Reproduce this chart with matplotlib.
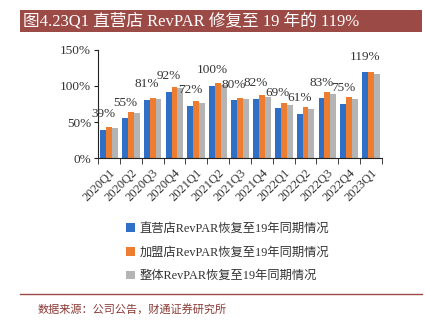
import matplotlib
matplotlib.use("Agg")
import matplotlib.pyplot as plt
from matplotlib.patches import Rectangle
from matplotlib.lines import Line2D
import numpy as np

plt.rcParams['font.family'] = ['Liberation Serif', 'Noto Sans CJK SC']

categories = ["2020Q1", "2020Q2", "2020Q3", "2020Q4", "2021Q1", "2021Q2", "2021Q3",
              "2021Q4", "2022Q1", "2022Q2", "2022Q3", "2022Q4", "2023Q1"]
direct = [39, 55, 81, 92, 72, 100, 80, 82, 69, 61, 83, 75, 119]
franchise = [43, 64, 83, 98, 79, 104, 84, 87, 76, 71, 92, 85, 119]
overall = [42, 62, 82, 97, 77, 102, 82, 85, 74, 68, 89, 82, 117]
series_names = ["直营店RevPAR恢复至19年同期情况",
                "加盟店RevPAR恢复至19年同期情况",
                "整体RevPAR恢复至19年同期情况"]
yticks = [0, 50, 100, 150]
title = "图4.23Q1 直营店 RevPAR 修复至 19 年的 119%"
source = "数据来源：公司公告，财通证券研究所"

colors = ["#2F6FC6", "#ED7D31", "#B4B4B4"]
red = "#9C4A45"
txt = "#333333"

fig = plt.figure(figsize=(4.27, 3.21), dpi=100)
fig.patch.set_facecolor("white")

# Title bar
fig.patches.append(Rectangle((20/427, 1-32/321), 402/427, 22/321, transform=fig.transFigure,
                             facecolor=red, edgecolor="none"))
fig.text(23/427, 1-21/321, title, color="white", fontsize=12, va="center", ha="left")

ax = fig.add_axes([98/427, 1-158/321, 284/427, 108/321])
x = np.arange(len(categories))
w = 0.27
for k, (vals, c, name) in enumerate(zip([direct, franchise, overall], colors, series_names)):
    ax.bar(x + (k-1)*w, vals, width=w, color=c, label=name, zorder=2)

for i, v in enumerate(direct):
    ax.annotate(f"{v}%", (x[i] - w, v), xytext=(0, 7), textcoords="offset points",
                ha="center", va="bottom", fontsize=9.5, color=txt)

ax.set_xlim(-0.5, len(categories) - 0.5)
ax.set_ylim(0, 150)
ax.set_yticks(yticks)
ax.set_yticklabels([f"{t}%" for t in yticks], fontsize=9.5, color=txt)
ax.set_xticks(x)
ax.set_xticklabels(categories, rotation=45, ha="right", rotation_mode="anchor", fontsize=9,
                   color=txt)
ax.tick_params(axis="x", which="major", length=0, pad=6)
ax.set_xticks(np.arange(-0.5, len(categories), 1), minor=True)
ax.tick_params(axis="x", which="minor", length=4, direction="out", color="#222222")
ax.tick_params(axis="y", length=3, direction="out", color="#222222", pad=2)
for s in ["top", "right"]:
    ax.spines[s].set_visible(False)
ax.spines["left"].set_color("#222222")
ax.spines["bottom"].set_color("#222222")

handles = [Rectangle((0, 0), 1, 1, facecolor=c) for c in colors]
fig.legend(handles, series_names, loc="upper left", bbox_to_anchor=(115/427, 1-212/321),
           frameon=False, fontsize=8.8, handlelength=0.7, handleheight=0.7,
           handletextpad=0.4, labelspacing=0.95, labelcolor=txt)

fig.lines.append(Line2D([20/427, 422/427], [1-294/321, 1-294/321], transform=fig.transFigure,
                        color=red, linewidth=1))
fig.text(38/427, 1-309/321, source, color="#8B3A35", fontsize=8, va="center", ha="left")

fig.savefig("out.png", dpi=100)
